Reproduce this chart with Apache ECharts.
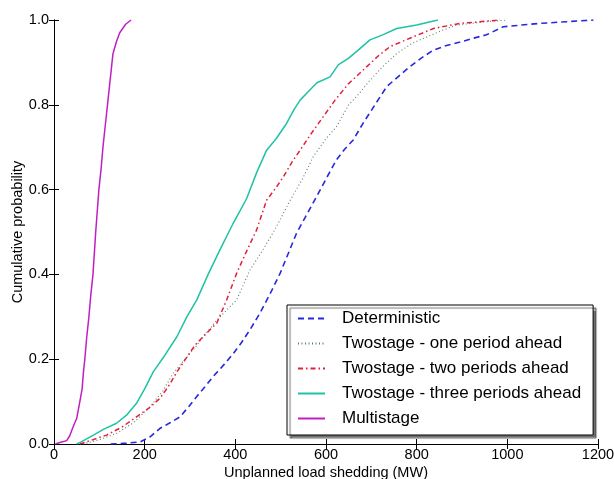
<!DOCTYPE html>
<html>
<head>
<meta charset="utf-8">
<script src="https://cdn.jsdelivr.net/npm/echarts@6/dist/echarts.min.js"></script>
<style>html,body{margin:0;padding:0;background:#fff}#c{width:614px;height:479px}</style>
</head>
<body>
<div id="c"></div>
<script>
var seriesNames = ["Deterministic", "Twostage - one period ahead", "Twostage - two periods ahead", "Twostage - three periods ahead", "Multistage"];
var xTicks = [0, 200, 400, 600, 800, 1000, 1200];
var yTicks = [0.0, 0.2, 0.4, 0.6, 0.8, 1.0];

var detX = [125,160,190,212,234,256,278,297,315,333,351,374,396,414,432,454,477,499,517,535,557,579,601,623,641,660,682,708,734,760,785,810,837,866,896,925,954,991,1030,1072,1131,1190];
var detY = [0,0.002,0.005,0.017,0.037,0.05,0.064,0.088,0.112,0.135,0.159,0.186,0.214,0.24,0.269,0.308,0.355,0.403,0.45,0.497,0.54,0.583,0.627,0.67,0.695,0.717,0.757,0.80,0.843,0.867,0.89,0.91,0.929,0.94,0.948,0.957,0.965,0.984,0.988,0.992,0.996,1.0];

var oneX = [64,100,138,175,212,240,263,285,307,335,359,381,403,432,462,491,521,548,572,600,623,650,668,697,725,756,790,822,855,888,954,1000];
var oneY = [0,0.01,0.025,0.05,0.088,0.125,0.167,0.195,0.222,0.26,0.292,0.316,0.34,0.41,0.46,0.513,0.575,0.625,0.678,0.72,0.748,0.80,0.82,0.858,0.89,0.921,0.945,0.96,0.975,0.988,0.996,1.0];

var twoX = [57,80,116,150,182,210,234,255,271,290,311,335,359,381,403,425,447,469,490,506,525,543,566,594,620,650,690,715,741,785,837,896,984];
var twoY = [0,0.008,0.021,0.04,0.064,0.085,0.108,0.14,0.17,0.2,0.233,0.26,0.285,0.34,0.403,0.455,0.505,0.575,0.605,0.63,0.665,0.693,0.73,0.772,0.811,0.85,0.89,0.915,0.937,0.957,0.98,0.992,1.0];

var threeX = [50,60,87,110,138,160,182,200,219,245,271,293,315,340,366,395,425,447,469,490,513,530,543,560,580,609,627,650,671,697,725,756,800,847];
var threeY = [0,0.005,0.021,0.035,0.049,0.068,0.096,0.13,0.17,0.21,0.253,0.30,0.34,0.40,0.458,0.52,0.579,0.64,0.693,0.72,0.756,0.79,0.811,0.83,0.852,0.866,0.894,0.91,0.929,0.953,0.965,0.98,0.988,1.0];

var multiX = [3,15,28,35,42,50,57,62,65,68,72,77,81,86,92,99,104,108,113,118,122,126,130,138,145,158,170];
var multiY = [0,0.004,0.008,0.02,0.04,0.06,0.1,0.13,0.17,0.2,0.25,0.3,0.35,0.4,0.5,0.6,0.65,0.7,0.75,0.8,0.84,0.88,0.92,0.95,0.97,0.99,1.0];

function zip(xs, ys) { return xs.map(function (x, i) { return [x, ys[i]]; }); }

var FONT = "Liberation Sans, Arial, sans-serif";
var chart = echarts.init(document.getElementById('c'), null, {renderer: 'canvas'});

function mk(name, xs, ys, color, type, width) {
  return {
    name: name, type: 'line', data: zip(xs, ys), symbol: 'none', showSymbol: false, smooth: false,
    lineStyle: {color: color, width: width, type: type}, itemStyle: {color: color},
    xAxisIndex: 0, yAxisIndex: 0, animation: false
  };
}

var axisLine = {show: true, lineStyle: {color: '#000', width: 1}};
var tickIn = {show: true, inside: true, length: 5, lineStyle: {color: '#000'}};

chart.setOption({
  animation: false,
  backgroundColor: '#fff',
  grid: {left: 54, right: 16, top: 20, bottom: 35, containLabel: false, outerBoundsMode: 'none'},
  xAxis: [
    {type: 'value', min: 0, max: 1200, interval: 200, position: 'bottom',
     name: 'Unplanned load shedding (MW)', nameLocation: 'middle', nameGap: 21, nameMoveOverlap: false,
     nameTextStyle: {fontFamily: FONT, fontSize: 14.5, color: '#000'},
     axisLine: axisLine, axisTick: tickIn, splitLine: {show: false},
     axisLabel: {fontFamily: FONT, fontSize: 14.5, color: '#000', margin: 3,
       formatter: function (v) { return xTicks.indexOf(v) >= 0 ? String(v) : ''; }}},
    {type: 'value', min: 0, max: 1200, interval: 200, position: 'top',
     axisLine: axisLine, axisTick: tickIn, splitLine: {show: false}, axisLabel: {show: false}}
  ],
  yAxis: [
    {type: 'value', min: 0, max: 1, interval: 0.2, position: 'left',
     name: 'Cumulative probability', nameLocation: 'middle', nameGap: 29, nameRotate: 90, nameMoveOverlap: false,
     nameTextStyle: {fontFamily: FONT, fontSize: 14.5, color: '#000'},
     axisLine: axisLine, axisTick: tickIn, splitLine: {show: false},
     axisLabel: {fontFamily: FONT, fontSize: 14.5, color: '#000', margin: 5,
       formatter: function (v) { return v.toFixed(1); }}},
    {type: 'value', min: 0, max: 1, interval: 0.2, position: 'right',
     axisLine: axisLine, axisTick: tickIn, splitLine: {show: false}, axisLabel: {show: false}}
  ],
  legend: {
    orient: 'vertical', left: 287, top: 305,
    data: seriesNames,
    itemWidth: 27, itemHeight: 14, itemGap: 8,
    padding: [5, 12, 8, 10],
    backgroundColor: '#fff', borderColor: '#000', borderWidth: 1, borderRadius: 0,
    shadowColor: 'rgba(0,0,0,0.55)', shadowOffsetX: 3, shadowOffsetY: 3, shadowBlur: 1,
    itemStyle: {opacity: 0},
    textStyle: {fontFamily: FONT, fontSize: 17, color: '#000', lineHeight: 17, padding: [0, 0, 0, 12]},
    inactiveColor: '#ccc', selectedMode: false
  },
  series: [
    mk(seriesNames[0], detX, detY, '#2828dc', [6, 4], 1.6),
    mk(seriesNames[1], oneX, oneY, '#5a7f66', [1, 2.5], 1.1),
    mk(seriesNames[2], twoX, twoY, '#e0203c', [5, 3, 1.5, 3], 1.5),
    mk(seriesNames[3], threeX, threeY, '#1ec2a4', 'solid', 1.5),
    mk(seriesNames[4], multiX, multiY, '#c21fc2', 'solid', 1.5)
  ]
});
</script>
</body>
</html>
